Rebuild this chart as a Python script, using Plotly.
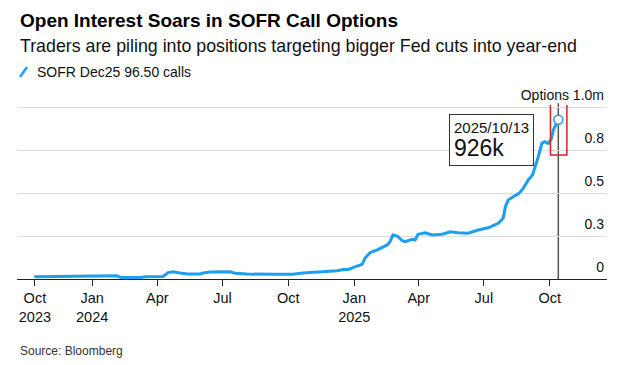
import plotly.graph_objects as go
import pandas as pd

# ---- data ----
dates = [
    "2023-10-12", "2023-11-30", "2023-12-24", "2024-02-04", "2024-02-11", "2024-03-08",
    "2024-03-15", "2024-04-09", "2024-04-16", "2024-04-23", "2024-05-03", "2024-05-13",
    "2024-05-31", "2024-06-04", "2024-06-14", "2024-07-12", "2024-07-19", "2024-08-04",
    "2024-09-09", "2024-10-07", "2024-10-21", "2024-11-18", "2024-12-08", "2024-12-19",
    "2024-12-23", "2025-01-02", "2025-01-12", "2025-01-16", "2025-01-19", "2025-01-23",
    "2025-02-02", "2025-02-09", "2025-02-16", "2025-02-20", "2025-02-24", "2025-03-02",
    "2025-03-09", "2025-03-13", "2025-03-23", "2025-03-27", "2025-03-31", "2025-04-10",
    "2025-04-20", "2025-05-04", "2025-05-15", "2025-05-26", "2025-06-09", "2025-06-23",
    "2025-07-07", "2025-07-21", "2025-07-28", "2025-07-31", "2025-08-04", "2025-08-11",
    "2025-08-19", "2025-08-25", "2025-09-01", "2025-09-07", "2025-09-11", "2025-09-15",
    "2025-09-20", "2025-09-24", "2025-09-29", "2025-10-03", "2025-10-06", "2025-10-09",
    "2025-10-13",
]
open_interest_m = [
    0.013, 0.017, 0.017, 0.019, 0.008, 0.008,
    0.013, 0.015, 0.037, 0.042, 0.035, 0.029,
    0.029, 0.035, 0.040, 0.042, 0.033, 0.029,
    0.027, 0.027, 0.035, 0.042, 0.048, 0.056,
    0.054, 0.070, 0.085, 0.120, 0.134, 0.153,
    0.169, 0.182, 0.198, 0.217, 0.256, 0.250,
    0.223, 0.217, 0.231, 0.227, 0.260, 0.269,
    0.256, 0.260, 0.275, 0.269, 0.266, 0.285,
    0.298, 0.324, 0.353, 0.420, 0.459, 0.478,
    0.498, 0.527, 0.576, 0.605, 0.653, 0.711,
    0.789, 0.798, 0.789, 0.812, 0.866, 0.895,
    0.926,
]

x_tick_vals = ["2023-10-13", "2024-01-01", "2024-04-01", "2024-07-01", "2024-10-01",
               "2025-01-01", "2025-04-01", "2025-07-01", "2025-10-01"]
x_tick_text = ["Oct<br>2023", "Jan<br>2024", "Apr", "Jul", "Oct",
               "Jan<br>2025", "Apr", "Jul", "Oct"]
y_tick_vals = [0, 0.25, 0.5, 0.75, 1.0]
y_tick_text = ["0", "0.3", "0.5", "0.8", "Options 1.0m"]

series_name = "SOFR Dec25 96.50 calls"
title = "Open Interest Soars in SOFR Call Options"
subtitle = "Traders are piling into positions targeting bigger Fed cuts into year-end"
source = "Source: Bloomberg"

# ---- styling ----
FONT = "Liberation Sans, Arial, sans-serif"
BLUE = "#1c9ff0"
W, H = 624, 365
ML, MR, MT, MB = 17, 17, 105, 86
PH = H - MT - MB
PW = W - ML - MR


def py(px):
    return (H - MB - px) / PH


def pxx(px):
    return (px - ML) / PW


last_date = pd.Timestamp(dates[-1])
last_val = open_interest_m[-1]

fig = go.Figure()
fig.add_trace(go.Scatter(x=dates, y=open_interest_m, mode="lines",
                         line=dict(color=BLUE, width=3), name=series_name,
                         hoverinfo="skip"))
fig.add_trace(go.Scatter(x=[dates[-1]], y=[last_val], mode="markers",
                         marker=dict(color="white", size=9,
                                     line=dict(color=BLUE, width=1.5)),
                         hoverinfo="skip"))

# highlight lines / box around latest value
fig.add_shape(type="line", xref="x", yref="paper",
              x0=dates[-1], x1=dates[-1], y0=0, y1=1.01,
              line=dict(color="#555555", width=1.5), layer="below")
fig.add_shape(type="rect", xref="x", yref="y",
              x0=(last_date - pd.Timedelta(days=11)).strftime("%Y-%m-%d"),
              x1=(last_date + pd.Timedelta(days=12)).strftime("%Y-%m-%d"),
              y0=last_val - 0.205, y1=1.018,
              line=dict(color="#d82222", width=1.5))

fig.add_annotation(x=dates[-1], y=last_val, xref="x", yref="y",
                   text=f"<span style='font-size:15px'>{last_date.strftime('%Y/%m/%d')}</span><br>"
                        f"<span style='font-size:23px'>{round(last_val * 1000)}k</span>",
                   showarrow=True, arrowcolor="rgba(0,0,0,0)", ax=-67, ay=20,
                   align="left", font=dict(family=FONT, size=18, color="#111"),
                   bordercolor="#333", borderwidth=1, borderpad=4, bgcolor="white")

# titles
fig.add_annotation(text=f"<b>{title}</b>", xref="paper", yref="paper",
                   x=pxx(18), y=py(20), xanchor="left", yanchor="middle",
                   showarrow=False, font=dict(family=FONT, size=19, color="#000"))
fig.add_annotation(text=subtitle, xref="paper", yref="paper",
                   x=pxx(18), y=py(46), xanchor="left", yanchor="middle",
                   showarrow=False, font=dict(family=FONT, size=17.8, color="#111"))
fig.add_annotation(text=series_name, xref="paper", yref="paper",
                   x=pxx(35), y=py(72), xanchor="left", yanchor="middle",
                   showarrow=False, font=dict(family=FONT, size=14, color="#111"))
fig.add_shape(type="line", xref="paper", yref="paper",
              x0=pxx(20), y0=py(77), x1=pxx(27), y1=py(67),
              line=dict(color=BLUE, width=2.5))
fig.add_annotation(text=source, xref="paper", yref="paper",
                   x=pxx(18), y=py(351), xanchor="left", yanchor="middle",
                   showarrow=False, font=dict(family=FONT, size=12, color="#333"))

fig.update_xaxes(type="date", range=["2023-09-18", "2025-12-20"],
                 tickvals=x_tick_vals, ticktext=x_tick_text, automargin=False,
                 showgrid=False, zeroline=False, showline=True,
                 linecolor="#222", linewidth=1,
                 ticks="outside", ticklen=6, tickcolor="#222",
                 tickfont=dict(family=FONT, size=14.5, color="#111"))
fig.update_yaxes(range=[0, 1.012], tickvals=y_tick_vals, ticktext=y_tick_text,
                 side="right", ticklabelposition="inside", ticklabelshift=-12,
                 ticklabeloverflow="allow", automargin=False,
                 showgrid=True, gridcolor="#dddddd", gridwidth=1,
                 zeroline=False, showline=False, ticks="",
                 tickfont=dict(family=FONT, size=14, color="#111"))

fig.update_layout(width=W, height=H, margin=dict(l=ML, r=MR, t=MT, b=MB),
                  paper_bgcolor="white", plot_bgcolor="white", showlegend=False)

fig.write_html("out.html", config={"displayModeBar": False},
               post_script="document.body.style.margin='0';"
                           "document.body.style.overflow='hidden';")
